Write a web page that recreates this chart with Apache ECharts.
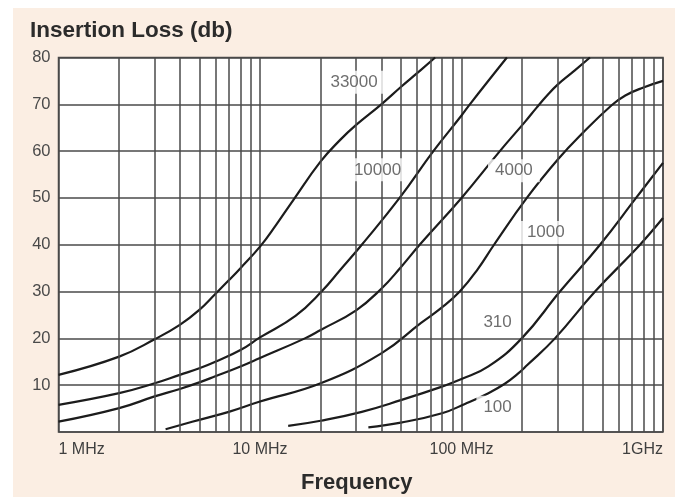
<!DOCTYPE html>
<html><head><meta charset="utf-8">
<script src="https://cdn.jsdelivr.net/npm/echarts@6/dist/echarts.min.js"></script>
<style>
html,body{margin:0;padding:0;background:#fff;}
#bg{position:absolute;left:13px;top:8px;width:662px;height:489px;background:#fbeee3;}
#chart{position:absolute;left:0;top:0;width:680px;height:497px;}
</style></head><body>
<div id="bg"></div><div id="chart"></div>
<script>
// ---- data (frequency in MHz, insertion loss in dB) ----
const curveNames = ['33000', '10000', '4000', '1000', '310', '100'];

const freq33000 = [1, 2, 3, 4, 5, 6, 7, 8, 10, 12, 14.6, 20, 25, 30, 40, 50, 60, 74];
const loss33000 = [12.2, 16.1, 19.8, 22.9, 26.1, 29.5, 32.4, 35, 39.6, 44.2, 49.5, 57.8, 62.4, 65.6, 70, 73.7, 76.6, 80];

const freq10000 = [1, 2, 3, 4, 5, 6, 8, 10, 15, 20.2, 25, 32, 49.3, 72.5, 100, 110, 168];
const loss10000 = [5.8, 8.3, 10.4, 12.2, 13.6, 15, 17.5, 20.2, 24.8, 30, 34.6, 40, 50, 60, 67.6, 70, 80];

const freq4000 = [1, 2, 3, 4, 5, 6, 8, 10, 16.7, 20, 30, 40, 50, 62, 100, 155, 207, 236, 270, 300, 350, 434];
const loss4000 = [2.2, 5.1, 7.6, 9.2, 10.6, 11.9, 14, 15.8, 20, 21.8, 26.0, 30.6, 35.2, 40, 50, 60, 66.3, 69.3, 72.2, 74.2, 76.6, 80];

const freq1000 = [3.4, 5, 7, 10, 20, 40, 63, 80, 98, 120, 145, 211, 302, 400, 556, 650, 800, 1000];
const loss1000 = [0.6, 2.6, 4.3, 6.5, 10.4, 16.8, 23.3, 26.6, 30, 34.7, 40, 50, 58.3, 63.9, 69.8, 71.9, 73.6, 75];

const freq310 = [13.8, 20, 32, 50, 80, 100, 136, 199, 308, 487, 735, 1000];
const loss310 = [1.3, 2.4, 4.3, 6.8, 9.7, 11.3, 14, 20, 30, 40, 50, 57.5];

const freq100 = [34.5, 50, 80, 104, 136, 164, 190, 212, 291, 460, 769, 1000];
const loss100 = [1, 2, 4, 6, 8.3, 10.3, 12.4, 14.3, 20, 30, 40, 45.7];

// curve label anchors (MHz, dB)
const labelFreq = [29.3, 38.3, 182, 262, 151, 151];
const labelLoss = [74.7, 56.0, 55.8, 42.6, 23.5, 5.3];

// axis ticks
const xTickValues = [1, 10, 100, 1000];
const xTickLabels = ['1 MHz', '10 MHz', '100 MHz', '1GHz'];
const xMinorGrid = [2, 3, 4, 5, 6, 7, 8, 9, 20, 30, 40, 50, 60, 70, 80, 90, 200, 300, 400, 500, 600, 700, 800, 900];

// ---- chart ----
const freqs = [freq33000, freq10000, freq4000, freq1000, freq310, freq100];
const losses = [loss33000, loss10000, loss4000, loss1000, loss310, loss100];
const FONT = "'Liberation Sans', Arial, sans-serif";
const GRID = '#4a4a4a';

const curveSeries = curveNames.map((n, i) => ({
  name: n,
  type: 'line',
  data: freqs[i].map((f, j) => [f, losses[i][j]]),
  smooth: 0.45,
  showSymbol: false,
  symbol: 'none',
  lineStyle: { color: '#1c1c1c', width: 2.2 },
  z: 3,
  silent: true
}));

const option = {
  animation: false,
  textStyle: { fontFamily: FONT },
  title: {
    text: 'Insertion Loss (db)',
    left: 25, top: 14,
    textStyle: { fontFamily: FONT, fontSize: 22.5, fontWeight: 'bold', color: '#2b2b2b' }
  },
  grid: {
    left: 58.5, top: 57.5, width: 604.5, height: 374.5,
    outerBoundsMode: 'none', containLabel: false,
    show: true, backgroundColor: '#fff', borderColor: GRID, borderWidth: 1.5
  },
  xAxis: {
    type: 'log', logBase: 10, min: 1, max: 1000,
    axisLine: { show: false }, axisTick: { show: false },
    splitLine: { show: true, lineStyle: { color: GRID, width: 1.5 } },
    axisLabel: {
      fontFamily: FONT, fontSize: 16, color: '#3f3f3f', margin: 10,
      alignMinLabel: 'left', alignMaxLabel: 'right',
      formatter: v => { const k = xTickValues.findIndex(t => Math.abs(t - v) < 1e-6 * t); return k >= 0 ? xTickLabels[k] : ''; }
    },
    name: 'Frequency', nameLocation: 'middle', nameGap: 40,
    nameTextStyle: { fontFamily: FONT, fontSize: 22, fontWeight: 'bold', color: '#2b2b2b', padding: [0, 8, 0, 0] }
  },
  yAxis: {
    type: 'value', min: 0, max: 80, interval: 10,
    axisLine: { show: false }, axisTick: { show: false },
    splitLine: { show: true, lineStyle: { color: GRID, width: 1.5 } },
    axisLabel: { fontFamily: FONT, fontSize: 16.5, color: '#4a4a4a', margin: 8, showMinLabel: false }
  },
  series: [
    {
      type: 'line', data: [], z: 1, silent: true,
      markLine: {
        silent: true, symbol: 'none', animation: false,
        label: { show: false },
        lineStyle: { color: GRID, width: 1.5, type: 'solid' },
        data: xMinorGrid.map(v => ({ xAxis: v }))
      }
    },
    ...curveSeries,
    {
      type: 'scatter', z: 5, silent: true,
      symbolSize: 0,
      data: labelFreq.map((f, i) => ({ value: [f, labelLoss[i]], name: curveNames[i] })),
      label: {
        show: true, position: 'inside', formatter: p => p.name,
        fontFamily: FONT, fontSize: 17, color: '#4a4a4a',
        backgroundColor: '#fff', padding: [3, 7]
      }
    }
  ]
};

const chart = echarts.init(document.getElementById('chart'), null, { renderer: 'canvas' });
chart.setOption(option);
</script>
</body></html>
